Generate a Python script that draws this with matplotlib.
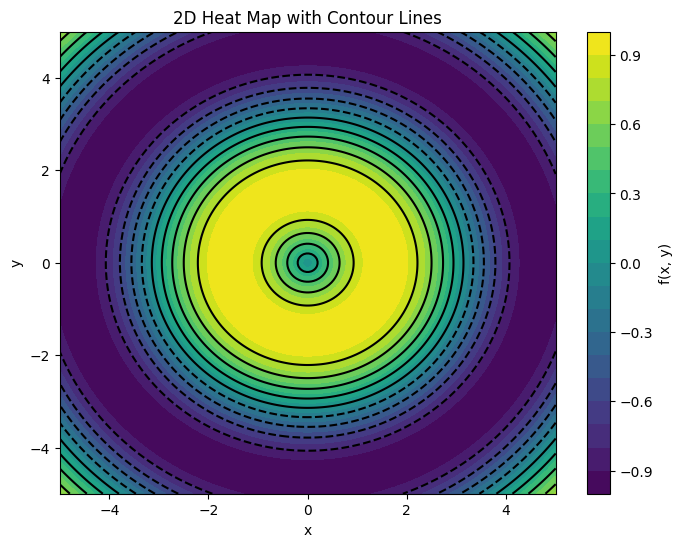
import numpy as np
import matplotlib
matplotlib.use("Agg")
import matplotlib.pyplot as plt

x_vals = np.linspace(-5, 5, 200)
y_vals = np.linspace(-5, 5, 200)
X, Y = np.meshgrid(x_vals, y_vals)
Z = np.sin(np.sqrt(X**2 + Y**2))

fill_levels = 20
line_levels = 10

fig, ax = plt.subplots(figsize=(8, 6), dpi=100)
cf = ax.contourf(X, Y, Z, levels=fill_levels, cmap='viridis')
ax.contour(X, Y, Z, levels=line_levels, colors='black')
cb = fig.colorbar(cf, ax=ax)
cb.set_label('f(x, y)')
ax.set_title('2D Heat Map with Contour Lines')
ax.set_xlabel('x')
ax.set_ylabel('y')
fig.savefig('out.png', bbox_inches='tight')
